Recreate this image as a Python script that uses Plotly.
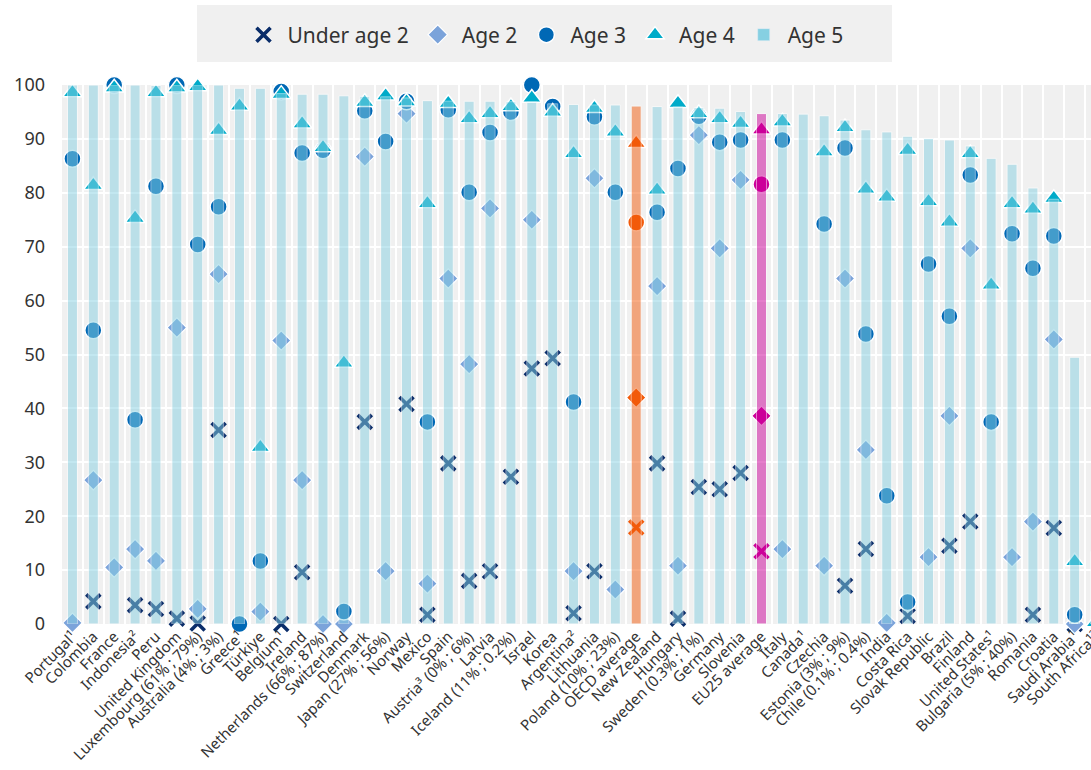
import plotly.graph_objects as go

# Enrolment rates by age (%), countries sorted by the age-5 rate
categories = [
    "Portugal¹", "Colombia", "France", "Indonesia²", "Peru", "United Kingdom",
    "Luxembourg (61% ; 79%)", "Australia (4% ; 3%)", "Greece¹", "Türkiye",
    "Belgium¹", "Ireland", "Netherlands (66% ; 87%)", "Switzerland", "Denmark",
    "Japan (27% ; 56%)", "Norway", "Mexico", "Spain", "Austria³ (0% ; 6%)",
    "Latvia", "Iceland (11% ; 0.2%)", "Israel", "Korea", "Argentina²",
    "Lithuania", "Poland (10% ; 23%)", "OECD average", "New Zealand", "Hungary",
    "Sweden (0.3% ; 1%)", "Germany", "Slovenia", "EU25 average", "Italy",
    "Canada¹", "Czechia", "Estonia (3% ; 9%)", "Chile (0.1% ; 0.4%)", "India",
    "Costa Rica", "Slovak Republic", "Brazil", "Finland", "United States¹",
    "Bulgaria (5% ; 40%)", "Romania", "Croatia", "Saudi Arabia¹", "South Africa¹²",
]

under_2 = [None, 4.2, None, 3.5, 2.8, 1.0, 0.1, 36.0, None, None,
           0.0, 9.6, None, None, 37.5, None, 40.8, 1.7, 29.8, 8.0,
           9.8, 27.3, 47.4, 49.3, 2.0, 9.8, None, 17.9, 29.8, 1.0,
           25.4, 25.0, 28.0, 13.5, None, None, None, 7.1, 13.9, None,
           1.5, None, 14.5, 19.0, None, None, 1.7, 17.8, 0.0, None]

age_2 = [0.2, 26.7, 10.5, 13.9, 11.7, 55.0, 2.8, 64.9, None, 2.3,
         52.6, 26.7, 0.0, 0.0, 86.7, 9.8, 94.7, 7.5, 64.1, 48.2,
         77.1, None, 75.0, None, 9.8, 82.7, 6.4, 42.0, 62.7, 10.8,
         90.7, 69.7, 82.4, 38.6, 13.9, None, 10.8, 64.1, 32.3, 0.2,
         None, 12.4, 38.6, 69.7, None, 12.4, 19.0, 52.8, 0.0, None]

age_3 = [86.3, 54.5, 100.0, 37.9, 81.2, 100.0, 70.4, 77.4, 0.0, 11.7,
         98.8, 87.4, 87.9, 2.3, 95.2, 89.5, 97.0, 37.5, 95.4, 80.1,
         91.2, 95.0, 100.0, 96.0, 41.2, 94.1, 80.1, 74.5, 76.4, 84.5,
         94.2, 89.4, 89.8, 81.6, 89.8, None, 74.2, 88.3, 53.8, 23.8,
         4.1, 66.8, 57.1, 83.3, 37.5, 72.4, 66.0, 72.0, 1.7, None]

age_4 = [98.6, 81.4, 99.5, 75.3, 98.6, 99.5, 99.7, 91.6, 96.1, 32.8,
         98.3, 92.8, 88.4, 48.4, 96.8, 98.0, 96.9, 78.0, 96.6, 93.8,
         94.7, 96.0, 97.6, 95.0, 87.3, 95.7, 91.3, 89.2, 80.5, 96.6,
         94.7, 93.8, 92.9, 91.7, 93.2, None, 87.6, 92.1, 80.7, 79.2,
         87.9, 78.4, 74.6, 87.3, 62.9, 78.0, 77.0, 79.0, 11.6, 0.3]

age_5 = [100.0, 100.0, 100.0, 100.0, 99.9, 100.0, 100.0, 100.0, 99.4, 99.4,
         98.4, 98.3, 98.3, 98.0, 97.9, 97.8, 97.6, 97.1, 97.0, 97.0,
         97.0, 96.9, 96.8, 96.5, 96.4, 96.3, 96.3, 96.1, 96.0, 95.9,
         95.8, 95.7, 95.1, 94.7, 94.7, 94.6, 94.3, 93.5, 91.7, 91.3,
         90.5, 90.1, 89.8, 88.7, 86.4, 85.3, 80.9, 78.8, 49.5, 13.5]

# Averages get their own colour
highlight = {"OECD average": "#f25a0a", "EU25 average": "#cc0099"}

C_U2 = "#0a2d6a"
C_A2 = "#7ba3da"
C_A3 = "#0068b5"
C_A4 = "#00abc9"
C_A5 = "#86d0e2"

FONT = "Noto Sans"
TEXT = "#333333"

# Page geometry (pixels)
W, H = 1106, 770
ML, MR, MT, MB = 62, 0, 85, 146
PW, PH = W - ML - MR, H - MT - MB


def colours(base):
    return [highlight.get(c, base) for c in categories]


def px_x(px):
    return (px - ML) / PW


def px_y(py):
    return (H - MB - py) / PH


fig = go.Figure()

common = dict(x=categories, mode="markers", cliponaxis=False, showlegend=True)

fig.add_trace(go.Scatter(
    y=under_2, name="Under age 2",
    marker=dict(symbol="x-thin", size=14, color=colours(C_U2),
                line=dict(width=3.6, color=colours(C_U2))),
    **common))

fig.add_trace(go.Scatter(
    y=age_2, name="Age 2",
    marker=dict(symbol="diamond", size=15, color=colours(C_A2),
                line=dict(width=1.2, color="white")),
    **common))

fig.add_trace(go.Scatter(
    y=age_3, name="Age 3",
    marker=dict(symbol="circle", size=17, color=colours(C_A3),
                line=dict(width=1.5, color="white")),
    **common))

fig.add_trace(go.Scatter(
    y=age_4, name="Age 4",
    marker=dict(symbol="triangle-up", size=17, color=colours(C_A4),
                line=dict(width=1.5, color="white")),
    **common))

# Translucent age-5 bars sit on an overlaid axis so they veil the markers
fig.add_trace(go.Bar(
    x=categories, y=age_5, name="Age 5", yaxis="y2", width=0.48,
    opacity=0.5, showlegend=False,
    marker=dict(color=colours(C_A5), line=dict(width=1, color="white"))))

# Legend entry for the bars at full strength
fig.add_trace(go.Bar(
    x=[None], y=[None], name="Age 5", yaxis="y2",
    marker=dict(color=C_A5), showlegend=True))

fig.update_layout(
    width=W, height=H,
    margin=dict(l=ML, r=MR, t=MT, b=MB, pad=0),
    paper_bgcolor="white",
    plot_bgcolor="#f0f0f0",
    font=dict(family=FONT, color=TEXT),
    bargap=0.52,
    barmode="overlay",
    showlegend=True,
    legend=dict(
        orientation="h",
        x=px_x(544), xanchor="center",
        y=px_y(35), yanchor="middle",
        bgcolor="rgba(0,0,0,0)",
        itemwidth=38,
        font=dict(size=21, family=FONT, color=TEXT),
        itemclick=False, itemdoubleclick=False,
    ),
    shapes=[dict(
        type="rect", xref="paper", yref="paper",
        x0=px_x(197), x1=px_x(892), y0=px_y(62), y1=px_y(5),
        fillcolor="#f0f0f0", line=dict(width=0), layer="below",
    )],
    xaxis=dict(
        type="category",
        categoryorder="array", categoryarray=categories,
        range=[-0.5, len(categories) - 0.5],
        tickson="boundaries",
        showgrid=True, gridcolor="white", gridwidth=2,
        ticks="", tickangle=-45,
        tickfont=dict(size=15, family=FONT, color=TEXT),
        showline=False, zeroline=False,
    ),
    yaxis=dict(
        range=[0, 100], dtick=10,
        showgrid=True, gridcolor="white", gridwidth=2,
        zeroline=False, showline=False, ticks="",
        ticklabelstandoff=16,
        tickfont=dict(size=18, family=FONT, color=TEXT),
    ),
    yaxis2=dict(
        overlaying="y", range=[0, 100], visible=False,
        showgrid=False, zeroline=False,
    ),
)

post = (
    "var d=document.getElementById('{plot_id}');"
    "d.parentElement.style.width='1091px';"
    "d.parentElement.style.overflow='hidden';"
    "document.body.style.overflow='hidden';"
    "document.body.style.margin='0';"
)

fig.write_html("out.html", post_script=post)
